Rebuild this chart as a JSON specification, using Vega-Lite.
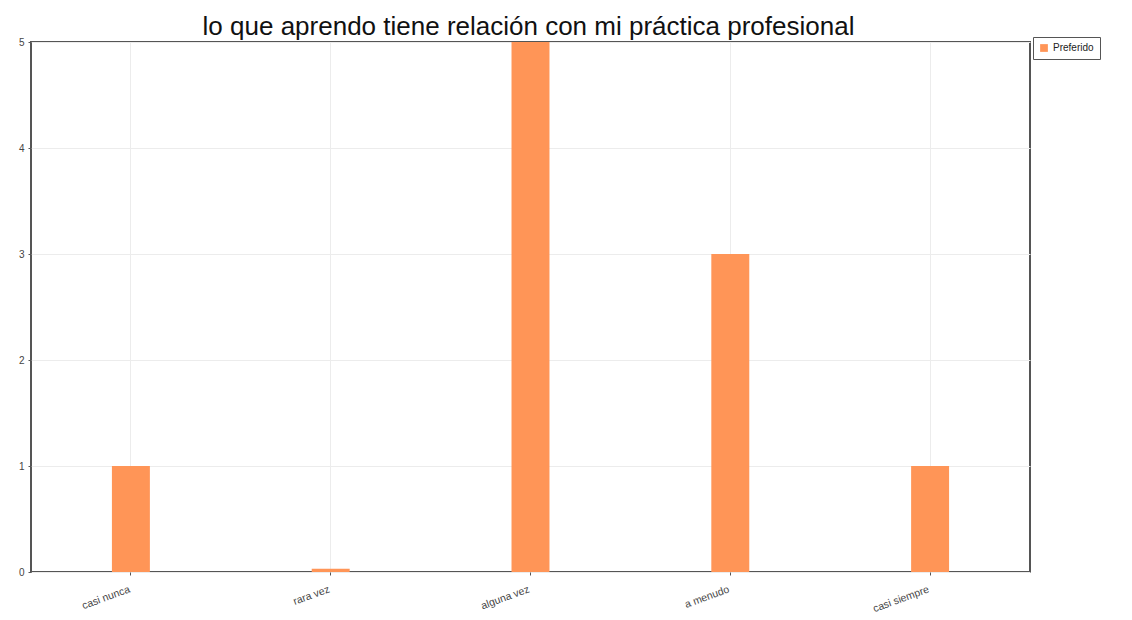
{
  "$schema": "https://vega.github.io/schema/vega-lite/v6.json",
  "autosize": "none",
  "width": 999,
  "height": 530,
  "padding": {"left": 31, "top": 42, "right": 102, "bottom": 48},
  "background": "white",
  "title": {
    "text": "lo que aprendo tiene relación con mi práctica profesional",
    "font": "Liberation Sans",
    "fontSize": 26,
    "fontWeight": "normal",
    "color": "#111",
    "anchor": "middle",
    "offset": -3,
    "dx": -2
  },
  "data": {
    "values": [
      {"categoria": "casi nunca", "valor": 1, "serie": "Preferido"},
      {"categoria": "rara vez", "valor": 0.03, "serie": "Preferido"},
      {"categoria": "alguna vez", "valor": 5, "serie": "Preferido"},
      {"categoria": "a menudo", "valor": 3, "serie": "Preferido"},
      {"categoria": "casi siempre", "valor": 1, "serie": "Preferido"}
    ]
  },
  "mark": {"type": "bar", "opacity": 1},
  "encoding": {
    "x": {
      "field": "categoria",
      "type": "nominal",
      "sort": null,
      "scale": {"paddingInner": 0.81, "paddingOuter": 0.405},
      "axis": {
        "title": null,
        "labelAngle": -20,
        "labelAlign": "right",
        "labelBaseline": "top",
        "labelFont": "Liberation Sans",
        "labelFontSize": 10.5,
        "labelColor": "#444",
        "labelPadding": 9,
        "labelOffset": -3,
        "grid": true,
        "gridColor": "#ececec",
        "gridWidth": 1,
        "tickColor": "#555",
        "tickSize": 3,
        "domain": false,
        "bandPosition": 0.5
      }
    },
    "y": {
      "field": "valor",
      "type": "quantitative",
      "scale": {"domain": [0, 5], "nice": false},
      "axis": {
        "title": null,
        "values": [0, 1, 2, 3, 4, 5],
        "labelFont": "Liberation Sans",
        "labelFontSize": 10,
        "labelColor": "#444",
        "labelPadding": 4,
        "grid": true,
        "gridColor": "#ececec",
        "tickColor": "#555",
        "tickSize": 3,
        "domain": false
      }
    },
    "color": {
      "field": "serie",
      "type": "nominal",
      "scale": {"range": ["#ff9557"]},
      "legend": {
        "title": null,
        "orient": "none",
        "legendX": 1002,
        "legendY": -5,
        "symbolType": "square",
        "symbolSize": 60,
        "symbolStrokeWidth": 0,
        "labelFont": "Liberation Sans",
        "labelFontSize": 10,
        "labelColor": "#222",
        "labelExpr": "datum.label + '\u2003\u2003'",
        "labelLimit": 200,
        "strokeColor": "#555",
        "padding": 6,
        "fillColor": "white"
      }
    }
  },
  "config": {
    "view": {"stroke": "#555", "strokeWidth": 2}
  }
}
